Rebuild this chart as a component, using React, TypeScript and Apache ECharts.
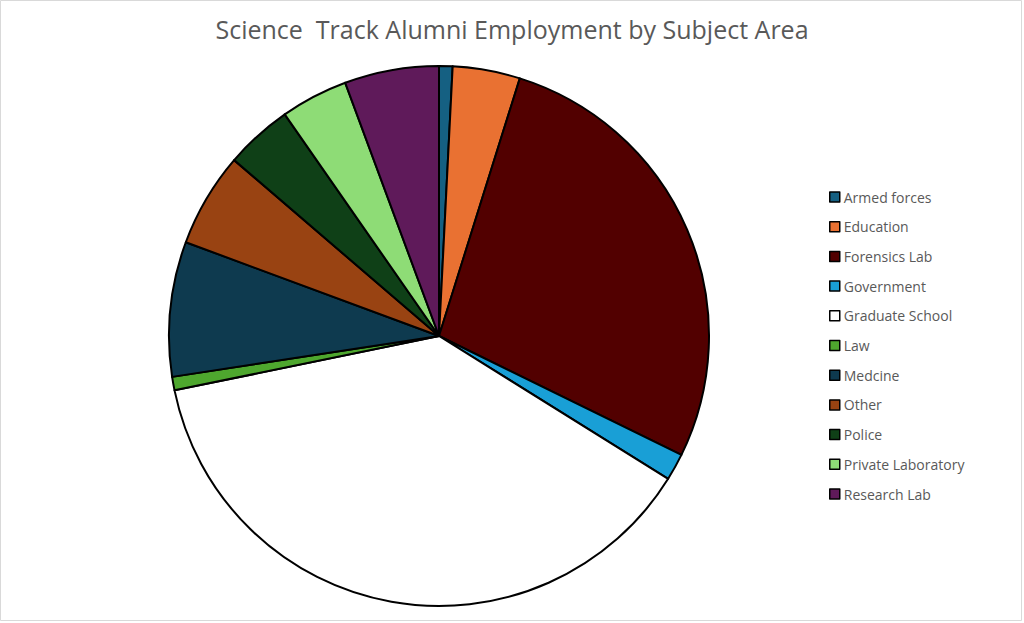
import React, { useEffect, useRef } from "react";
import * as echarts from "echarts";

const categories = [
  "Armed forces",
  "Education",
  "Forensics Lab",
  "Government",
  "Graduate School",
  "Law",
  "Medcine",
  "Other",
  "Police",
  "Private Laboratory",
  "Research Lab",
];
const values = [1, 5, 34, 2, 47, 1, 10, 7, 5, 5, 7];
const colors = [
  "#156082",
  "#E97132",
  "#520000",
  "#199FD6",
  "#FFFFFF",
  "#4EA72E",
  "#0E3A4F",
  "#994312",
  "#0F4017",
  "#8EDC76",
  "#5F1A5A",
];
const titleText = "Science  Track Alumni Employment by Subject Area";

export default function App() {
  const ref = useRef<HTMLDivElement>(null);
  useEffect(() => {
    if (!ref.current) return;
    const chart = echarts.init(ref.current, null, { renderer: "svg" });
    chart.setOption({
      animation: false,
      backgroundColor: "#ffffff",
      title: {
        text: titleText,
        left: 507,
        top: 11,
        textAlign: "center",
        textStyle: {
          fontFamily: "Open Sans",
          fontSize: 25,
          fontWeight: "normal",
          color: "#595959",
        },
      },
      graphic: [
        {
          type: "rect",
          shape: { x: 0.5, y: 0.5, width: 1021, height: 620 },
          style: { fill: "none", stroke: "#d9d9d9", lineWidth: 1 },
          silent: true,
        },
      ],
      legend: {
        orient: "vertical",
        left: 829,
        top: 189,
        padding: 0,
        itemWidth: 10,
        itemHeight: 10,
        itemGap: 13.7,
        icon: "rect",
        itemStyle: { borderColor: "#000", borderWidth: 1.5 },
        textStyle: {
          fontFamily: "Open Sans",
          fontSize: 14,
          color: "#595959",
          lineHeight: 16,
          padding: [0, 0, 0, -1],
        },
        data: categories,
      },
      series: [
        {
          type: "pie",
          center: [439, 336],
          radius: 270,
          startAngle: 90,
          clockwise: true,
          avoidLabelOverlap: false,
          label: { show: false },
          labelLine: { show: false },
          emphasis: { disabled: true },
          itemStyle: { borderColor: "#000", borderWidth: 2 },
          data: categories.map((name, i) => ({
            name,
            value: values[i],
            itemStyle: { color: colors[i] },
          })),
        },
      ],
    });
    return () => chart.dispose();
  }, []);
  return (
    <div
      ref={ref}
      style={{ position: "absolute", left: 0, top: 0, width: 1024, height: 623 }}
    />
  );
}
